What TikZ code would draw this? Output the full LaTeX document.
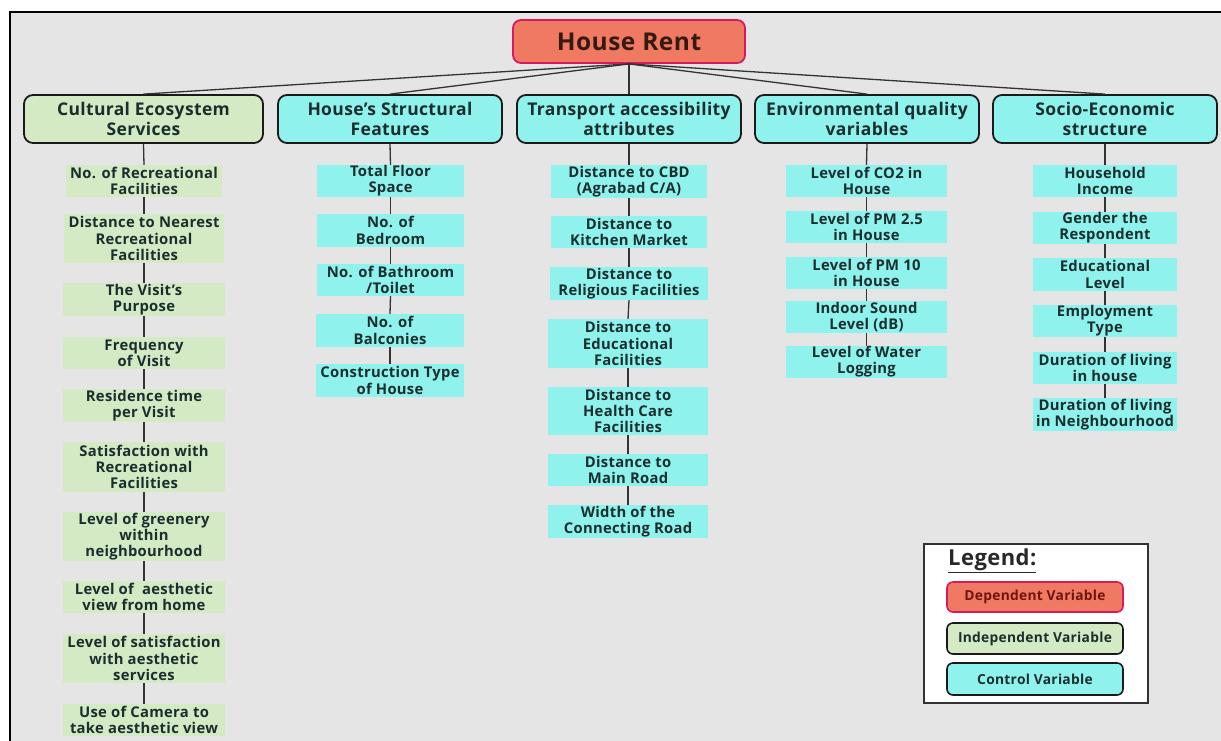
\documentclass[tikz,border=0pt]{standalone}
\usepackage{fontspec}
\setmainfont{Open Sans}[LetterSpace=2]
\definecolor{bgc}{HTML}{E5E5E5}
\definecolor{gfill}{HTML}{D4EAC4}
\definecolor{cfill}{HTML}{90F2ED}
\definecolor{sfill}{HTML}{F07A61}
\definecolor{pinkb}{HTML}{D61A5C}
\definecolor{txt}{HTML}{1B2E2E}
\definecolor{bord}{HTML}{1A1A1A}
\definecolor{lnk}{HTML}{333333}
\newcommand\mybox[7]{%
  \node[#1, minimum width={#5-#3}, minimum height={#6-#4}] (#2) at ({(#3+#5)/2},{(#4+#6)/2}) {#7};}
\begin{document}
\begin{tikzpicture}[x=1pt,y=-1pt,
  leaf/.style={inner sep=0pt, align=center, font=\bfseries\fontsize{14.8}{16.2}\selectfont, text=txt},
  gleaf/.style={leaf, fill=gfill},
  cleaf/.style={leaf, fill=cfill},
  catbox/.style={draw=bord, line width=1.8pt, rounded corners=9pt, align=center, inner sep=0pt, font=\bfseries\fontsize{17.5}{19.5}\selectfont, text=txt},
  gcat/.style={catbox, fill=gfill},
  ccat/.style={catbox, fill=cfill},
  rootbox/.style={draw=pinkb, fill=sfill, line width=1.8pt, rounded corners=8pt, inner sep=0pt, font=\bfseries\fontsize{24.5}{27}\selectfont, text={rgb,255:red,55;green,25;blue,20}},
  legbox/.style={line width=1.6pt, rounded corners=6pt, inner sep=0pt, font=\bfseries\fontsize{13.8}{15}\selectfont},
  link/.style={draw=lnk, line width=1.3pt}]
\useasboundingbox (0,0) rectangle (1221,740);
\fill[white] (0,0) rectangle (1221,740);
\fill[bgc] (10,12) rectangle (1225,745);
\draw[black, line width=1.4pt] (10,745) -- (10,12) -- (1225,12);

% root
\mybox{rootbox}{root}{513}{20}{745}{63}{House Rent}

% categories
\mybox{gcat}{c1}{24}{95}{263}{143}{Cultural Ecosystem\\Services}
\mybox{ccat}{c2}{278}{95}{502}{143}{House's Structural\\Features}
\mybox{ccat}{c3}{517}{95}{741}{143}{Transport accessibility\\attributes}
\mybox{ccat}{c4}{755}{95}{979}{143}{Environmental quality\\variables}
\mybox{ccat}{c5}{993}{95}{1217}{143}{Socio-Economic\\structure}

\foreach \c in {c1,c2,c3,c4,c5} \draw[link] (root.south) -- (\c.north);

% cultural ecosystem services
\mybox{gleaf}{g1}{66}{165}{222}{197}{No. of Recreational\\Facilities}
\mybox{gleaf}{g2}{64}{214}{224}{263}{Distance to Nearest\\Recreational\\Facilities}
\mybox{gleaf}{g3}{63}{283}{225}{316}{The Visit's\\Purpose}
\mybox{gleaf}{g4}{63}{337}{225}{369}{Frequency\\of Visit}
\mybox{gleaf}{g5}{63}{389}{225}{422}{Residence time\\per Visit}
\mybox{gleaf}{g6}{63}{442}{225}{492}{Satisfaction with\\Recreational\\Facilities}
\mybox{gleaf}{g7}{63}{512}{225}{561}{Level of greenery\\within\\neighbourhood}
\mybox{gleaf}{g8}{63}{581}{225}{613}{Level of\ \ aesthetic\\view from home}
\mybox{gleaf}{g9}{63}{634}{225}{683}{Level of satisfaction\\with aesthetic\\services}
\mybox{gleaf}{g10}{63}{704}{225}{736}{Use of Camera to\\take aesthetic view}
\draw[link] (c1.south) -- (g1.north);
\foreach \a/\b in {g1/g2,g2/g3,g3/g4,g4/g5,g5/g6,g6/g7,g7/g8,g8/g9,g9/g10} \draw[link] (\a.south) -- (\b.north);

% house's structural features
\mybox{cleaf}{s1}{317}{165}{464}{197}{Total Floor\\Space}
\mybox{cleaf}{s2}{317}{214}{464}{247}{No. of\\Bedroom}
\mybox{cleaf}{s3}{317}{264}{464}{296}{No. of Bathroom\\/Toilet}
\mybox{cleaf}{s4}{316}{314}{464}{347}{No. of\\Balconies}
\mybox{cleaf}{s5}{316}{364}{464}{397}{Construction Type\\of House}
\draw[link] (c2.south) -- (s1.north);
\foreach \a/\b in {s1/s2,s2/s3,s3/s4,s4/s5} \draw[link] (\a.south) -- (\b.north);

% transport
\mybox{cleaf}{t1}{551}{165}{707}{198}{Distance to CBD\\(Agrabad C/A)}
\mybox{cleaf}{t2}{551}{216}{707}{248}{Distance to\\Kitchen Market}
\mybox{cleaf}{t3}{550}{267}{708}{300}{Distance to\\Religious Facilities}
\mybox{cleaf}{t4}{548}{319}{708}{368}{Distance to\\Educational\\Facilities}
\mybox{cleaf}{t5}{548}{387}{708}{435}{Distance to\\Health Care\\Facilities}
\mybox{cleaf}{t6}{548}{454}{708}{486}{Distance to\\Main Road}
\mybox{cleaf}{t7}{548}{505}{708}{538}{Width of the\\Connecting Road}
\draw[link] (c3.south) -- (t1.north);
\foreach \a/\b in {t1/t2,t2/t3,t3/t4,t4/t5,t5/t6,t6/t7} \draw[link] (\a.south) -- (\b.north);

% environmental
\mybox{cleaf}{e1}{786}{165}{947}{197}{Level of CO2 in\\House}
\mybox{cleaf}{e2}{786}{211}{947}{243}{Level of PM 2.5\\in House}
\mybox{cleaf}{e3}{786}{257}{947}{289}{Level of PM 10\\in House}
\mybox{cleaf}{e4}{786}{301}{947}{333}{Indoor Sound\\Level (dB)}
\mybox{cleaf}{e5}{786}{346}{947}{378}{Level of Water\\Logging}
\draw[link] (c4.south) -- (e1.north);
\foreach \a/\b in {e1/e2,e2/e3,e3/e4,e4/e5} \draw[link] (\a.south) -- (\b.north);

% socio-economic
\mybox{cleaf}{p1}{1033}{165}{1177}{197}{Household\\Income}
\mybox{cleaf}{p2}{1033}{212}{1177}{244}{Gender the\\Respondent}
\mybox{cleaf}{p3}{1033}{258}{1177}{291}{Educational\\Level}
\mybox{cleaf}{p4}{1033}{305}{1177}{337}{Employment\\Type}
\mybox{cleaf}{p5}{1033}{352}{1177}{384}{Duration of living\\in house}
\mybox{cleaf}{p6}{1033}{398}{1177}{431}{Duration of living\\in Neighbourhood}
\draw[link] (c5.south) -- (p1.north);
\foreach \a/\b in {p1/p2,p2/p3,p3/p4,p4/p5,p5/p6} \draw[link] (\a.south) -- (\b.north);

% legend
\node[draw={rgb,255:red,50;green,50;blue,50}, fill=white, line width=1.8pt, minimum width=224pt, minimum height=159pt, inner sep=0pt] (leg) at (1036,623.5) {};
\node[anchor=west, inner sep=0pt, font=\bfseries\fontsize{22}{24}\selectfont, text={rgb,255:red,40;green,40;blue,40}] (legt) at (948,561) {\underline{Legend:}};
\mybox{legbox, draw=pinkb, fill=sfill, text={rgb,255:red,110;green,20;blue,20}}{ld}{947}{582}{1123}{612}{Dependent Variable}
\mybox{legbox, draw=bord, fill=gfill, text=txt}{li}{947}{623}{1123}{654}{Independent Variable}
\mybox{legbox, draw=bord, fill=cfill, text=txt}{lc}{947}{663}{1123}{695}{Control Variable}
\end{tikzpicture}
\end{document}
